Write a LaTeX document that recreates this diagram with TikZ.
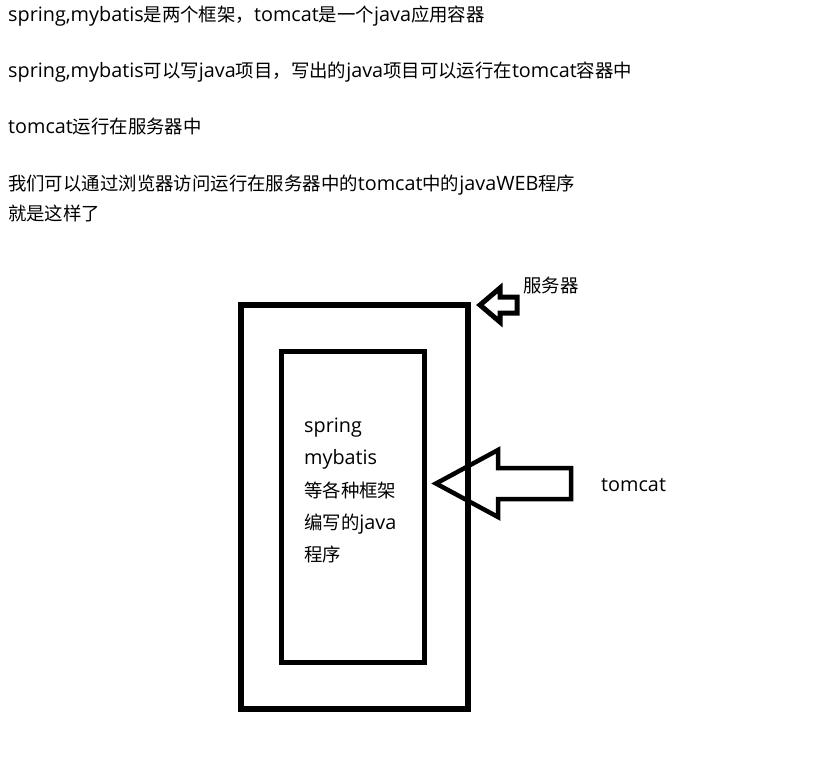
\documentclass[tikz,border=0pt]{standalone}
\usepackage{fontspec}
\setmainfont{Noto Sans CJK SC}
\newfontfamily\latfont{Open Sans}
\newcommand{\lt}[1]{{\latfont\fontsize{19.8}{18}\selectfont #1}}
\begin{document}
\begin{tikzpicture}[x=1pt,y=-1pt,
  txt/.style={anchor=base west,inner sep=0pt,font=\fontsize{18.4}{18}\selectfont,text=black},
  boxline/.style={draw=black,line join=miter},
  arrowshape/.style={draw=black,line join=miter,fill=white}]
\useasboundingbox (0,0) rectangle (818,756);
% top text
\node[txt] (l1) at (8,21) {\lt{spring,mybatis}是两个框架，\lt{tomcat}是一个\lt{java}应用容器};
\node[txt] (l2) at (8,77) {\lt{spring,mybatis}可以写\lt{java}项目，写出的\lt{java}项目可以运行在\lt{tomcat}容器中};
\node[txt] (l3) at (8,133) {\lt{tomcat}运行在服务器中};
\node[txt] (l4) at (8,190) {我们可以通过浏览器访问运行在服务器中的\lt{tomcat}中的\lt{javaWEB}程序};
\node[txt] (l5) at (8,220) {就是这样了};
% boxes
\node[boxline,line width=6pt,minimum width=226.5pt,minimum height=403.5pt,inner sep=0pt] (server) at (354.25,506.75) {};
\node[boxline,line width=5pt,minimum width=142.5pt,minimum height=311.5pt,inner sep=0pt] (tomcatbox) at (352.75,506.75) {};
% inner text
\node[txt] (t1) at (304,432) {\lt{spring}};
\node[txt] (t2) at (304,464) {\lt{mybatis}};
\node[txt] (t3) at (304,497) {等各种框架};
\node[txt] (t4) at (304,529) {编写的\lt{java}};
\node[txt] (t5) at (304,561) {程序};
% labels
\node[txt] (srvlabel) at (523,292) {服务器};
\node[txt] (tclabel) at (601,491) {\lt{tomcat}};
% small arrow pointing at server box
\draw[arrowshape,line width=5pt] (480,305) -- (500,288) -- (500,297) -- (517,297) -- (517,313) -- (500,313) -- (500,322) -- cycle;
% big arrow pointing at tomcat box
\draw[line width=4.5pt,line join=miter] (436,483.5) -- (498,450) -- (498,468) -- (571,468) -- (571,499) -- (498,499) -- (498,517) -- cycle;
\end{tikzpicture}
\end{document}
